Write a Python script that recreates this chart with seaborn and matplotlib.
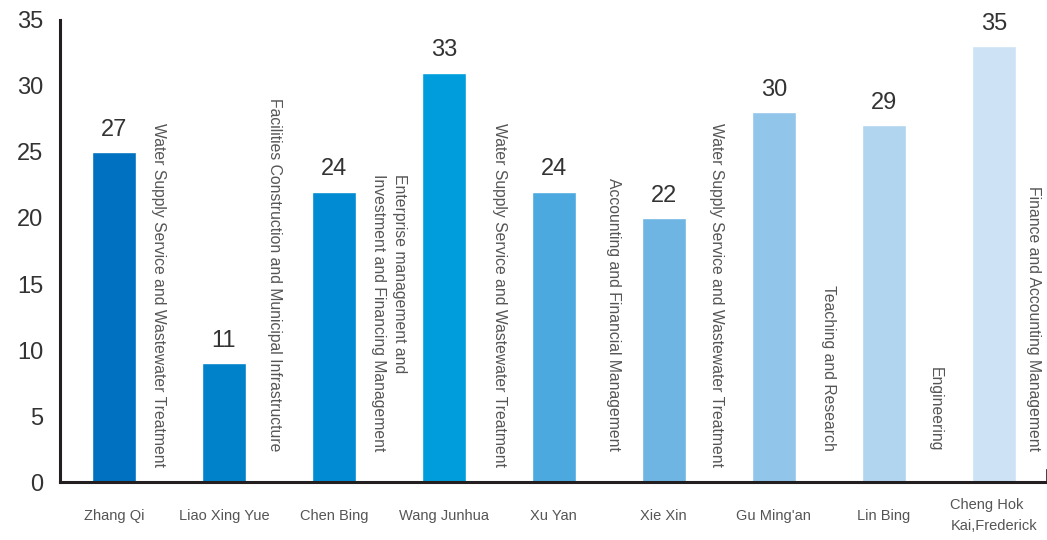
import matplotlib
matplotlib.use("Agg")
import matplotlib.pyplot as plt
import seaborn as sns
import pandas as pd

# Data
names = ["Zhang Qi", "Liao Xing Yue", "Chen Bing", "Wang Junhua", "Xu Yan",
         "Xie Xin", "Gu Ming'an", "Lin Bing", "Cheng Hok\nKai,Frederick"]
bar_values = [25, 9, 22, 31, 22, 20, 28, 27, 33]
value_labels = [27, 11, 24, 33, 24, 22, 30, 29, 35]
majors = ["Water Supply Service and Wastewater Treatment",
          "Facilities Construction and Municipal Infrastructure",
          "Enterprise management and\nInvestment and Financing Management",
          "Water Supply Service and Wastewater Treatment",
          "Accounting and Financial Management",
          "Water Supply Service and Wastewater Treatment",
          "Teaching and Research",
          "Engineering",
          "Finance and Accounting Management"]
colors = ["#0070C0", "#0082CB", "#008BD3", "#009DDC", "#4CA9E0",
          "#6FB5E3", "#91C5E9", "#B1D4EF", "#CDE2F5"]

# text placement (style only)
major_dx = [0.41, 0.46, 0.50, 0.51, 0.54, 0.48, 0.50, 0.47, 0.36]
major_bottom = [1.15, 2.35, 2.35, 1.15, 2.35, 1.15, 2.35, 2.35, 2.35]

df = pd.DataFrame({"name": names, "value": bar_values})

sns.set_style("white")
plt.rcParams["font.family"] = ["Liberation Sans", "DejaVu Sans"]

fig = plt.figure(figsize=(10.47, 5.40), dpi=100)
ax = fig.add_axes([60 / 1047, 1 - 482.3 / 540, 986.5 / 1047, 462.6 / 540])

sns.barplot(data=df, x="name", y="value", hue="name", palette=colors,
            legend=False, width=0.40, saturation=1, ax=ax)

ax.set_ylim(0, 35)
ax.set_xlim(-0.49, 8.48)
ax.set_yticks(range(0, 36, 5))
ax.set_xlabel("")
ax.set_ylabel("")

spine_col = "#231F20"
ax.spines["top"].set_visible(False)
for s in ["left", "bottom"]:
    ax.spines[s].set_linewidth(2.2)
    ax.spines[s].set_color(spine_col)
ax.spines["right"].set_color(spine_col)
ax.spines["right"].set_linewidth(1.2)
ax.spines["right"].set_bounds(0, 0.9)

ax.tick_params(axis="y", direction="in", length=17, width=2.2, color=spine_col,
               pad=12, labelsize=17, labelcolor="#333333")
ax.tick_params(axis="x", length=0, pad=24, labelsize=10.5, labelcolor="#555555")
for lab in ax.get_xticklabels():
    lab.set_va("center")
    lab.set_multialignment("left")
    lab.set_linespacing(1.6)

for i, (v, lbl) in enumerate(zip(bar_values, value_labels)):
    ax.annotate(str(lbl), (i, v), xytext=(0, 8), textcoords="offset points",
                ha="center", va="bottom", fontsize=17, color="#333333")

for i, txt in enumerate(majors):
    ax.text(i + major_dx[i], major_bottom[i], txt, rotation=-90,
            ha="center", va="bottom", fontsize=11.3, color="#555555",
            multialignment="left", linespacing=1.5)

fig.savefig("out.png", dpi=100)
